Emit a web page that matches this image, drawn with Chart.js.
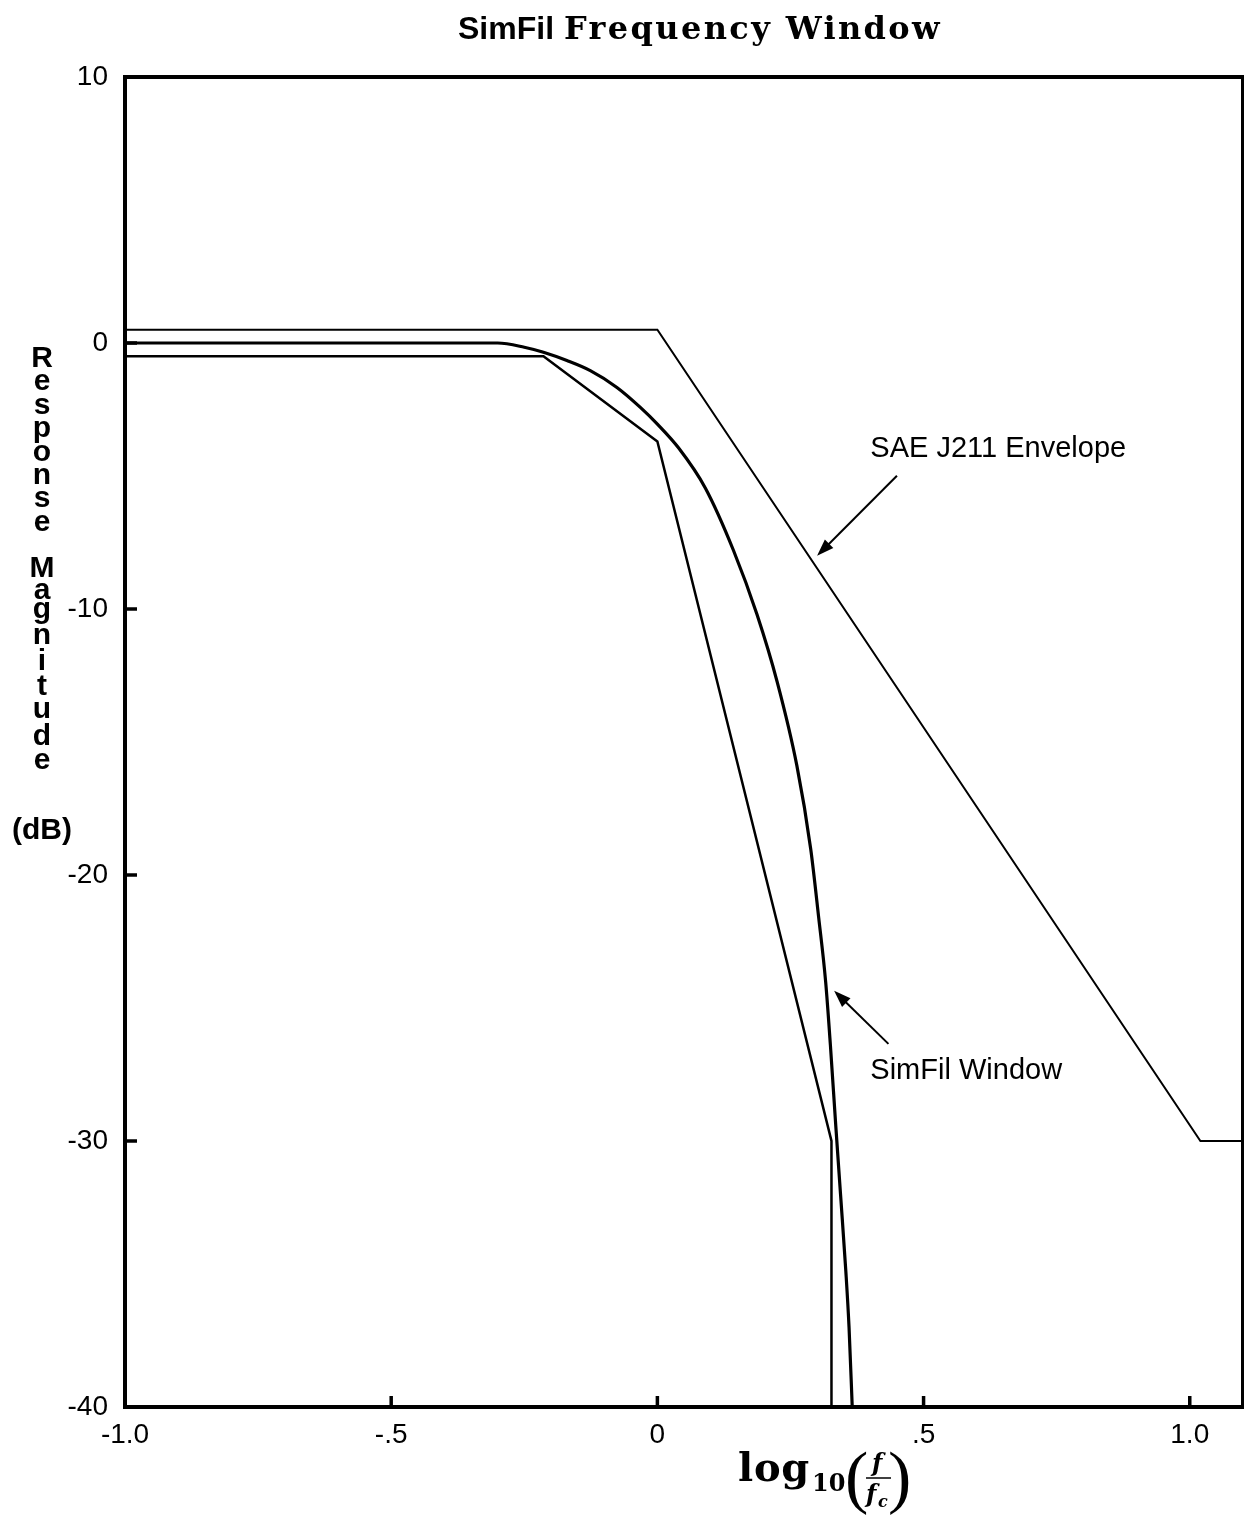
<!DOCTYPE html>
<html>
<head>
<meta charset="utf-8">
<script src="https://cdn.jsdelivr.net/npm/chart.js@4.4.1/dist/chart.umd.min.js"></script>
<style>
  body { margin: 0; background: #fff; }
  canvas { display: block; }
</style>
</head>
<body>
<canvas id="simfil-chart" width="1244" height="1520"></canvas>
<script>
// SAE J211 envelope, upper bound
const upperX = [-1.0, 0.0, 1.02, 1.1];
const upperY = [0.5, 0.5, -30, -30];

// SAE J211 envelope, lower bound
const lowerX = [-1.0, -0.214, 0.0, 0.327, 0.327];
const lowerY = [-0.5, -0.5, -3.7, -30, -40];

// SimFil window response
const simfilX = [-1.0, -0.3, -0.25, -0.214, -0.17, -0.126, -0.076, -0.032, 0.0, 0.04, 0.09,
  0.143, 0.187, 0.225, 0.262, 0.288, 0.303, 0.316, 0.325, 0.335, 0.344, 0.354, 0.36, 0.366];
const simfilY = [0, 0, -0.16, -0.35, -0.66, -1.04, -1.67, -2.42, -3.05, -3.95, -5.45,
  -7.8, -10.2, -12.74, -15.89, -19.02, -21.6, -24.0, -26.4, -29.4, -32.0, -34.9, -37.0, -40];

const xTicks = [-1.0, -0.5, 0, 0.5, 1.0];
const xTickLabels = ['-1.0', '-.5', '0', '.5', '1.0'];
const yTicks = [10, 0, -10, -20, -30, -40];
const yTickLabels = ['10', '0', '-10', '-20', '-30', '-40'];

const toPoints = (xs, ys) => xs.map((x, i) => ({ x, y: ys[i] }));

// text annotations with arrows, in data units
const notes = [
  { text: 'SAE J211 Envelope', x: 0.4, y: -4.3, from: [0.450, -4.99], to: [0.300, -8.0] },
  { text: 'SimFil Window', x: 0.4, y: -27.67, from: [0.434, -26.35], to: [0.332, -24.35] }
];

const SANS = '"Liberation Sans", Arial, sans-serif';
const SERIF = '"DejaVu Serif", serif';
const THIN_SERIF = '"Liberation Serif", serif';

// draw text stretched with letter spacing so it spans the given width
function fillSpread(ctx, text, x, y, width) {
  ctx.letterSpacing = '0px';
  const w = ctx.measureText(text).width;
  const sp = Math.max(0, (width - w) / text.length);
  ctx.letterSpacing = sp + 'px';
  ctx.fillText(text, x, y);
  ctx.letterSpacing = '0px';
}

const decorPlugin = {
  id: 'decor',
  afterDraw(chart) {
    const { ctx, chartArea: a, scales: { x, y } } = chart;
    ctx.save();
    ctx.strokeStyle = '#000';
    ctx.fillStyle = '#000';

    // frame
    ctx.lineWidth = 4;
    ctx.strokeRect(a.left, a.top, a.right - a.left, a.bottom - a.top);

    // inward tick marks
    ctx.lineWidth = 3.5;
    yTicks.slice(1, -1).forEach(v => {
      const py = y.getPixelForValue(v);
      ctx.beginPath(); ctx.moveTo(a.left, py); ctx.lineTo(a.left + 12, py); ctx.stroke();
    });
    xTicks.slice(1).forEach(v => {
      const px = x.getPixelForValue(v);
      ctx.beginPath(); ctx.moveTo(px, a.bottom); ctx.lineTo(px, a.bottom - 11); ctx.stroke();
    });

    // notes and arrows
    ctx.font = '29px ' + SANS;
    ctx.textAlign = 'left';
    ctx.textBaseline = 'alphabetic';
    notes.forEach(n => {
      ctx.fillText(n.text, x.getPixelForValue(n.x), y.getPixelForValue(n.y));
      const x0 = x.getPixelForValue(n.from[0]), y0 = y.getPixelForValue(n.from[1]);
      const x1 = x.getPixelForValue(n.to[0]), y1 = y.getPixelForValue(n.to[1]);
      const ang = Math.atan2(y1 - y0, x1 - x0);
      ctx.lineWidth = 2;
      ctx.beginPath(); ctx.moveTo(x0, y0);
      ctx.lineTo(x1 - 10 * Math.cos(ang), y1 - 10 * Math.sin(ang)); ctx.stroke();
      ctx.beginPath();
      ctx.moveTo(x1, y1);
      ctx.lineTo(x1 - 17 * Math.cos(ang) + 6 * Math.sin(ang), y1 - 17 * Math.sin(ang) - 6 * Math.cos(ang));
      ctx.lineTo(x1 - 17 * Math.cos(ang) - 6 * Math.sin(ang), y1 - 17 * Math.sin(ang) + 6 * Math.cos(ang));
      ctx.closePath(); ctx.fill();
    });

    // title: bold sans + bold serif
    ctx.font = 'bold 32px ' + SANS;
    fillSpread(ctx, 'SimFil', 458, 39, 94);
    ctx.font = 'bold 32px ' + SERIF;
    fillSpread(ctx, 'Frequency Window', 564, 39, 378);

    // y axis title, stacked letters
    ctx.font = 'bold 30px ' + SANS;
    ctx.textAlign = 'center';
    'Response'.split('').forEach((c, i) => ctx.fillText(c, 42, 367 + i * 23.4));
    const magBase = [577, 599, 618, 644, 670, 695, 718, 745, 769];
    'Magnitude'.split('').forEach((c, i) => ctx.fillText(c, 42, magBase[i]));
    ctx.fillText('(dB)', 42, 839);

    // x axis title: log10 (f / fc)
    ctx.textAlign = 'left';
    ctx.font = 'bold 40px ' + SERIF;
    fillSpread(ctx, 'log', 738, 1481, 72);
    ctx.font = 'bold 24px ' + SERIF;
    ctx.fillText('10', 812, 1491);
    ctx.font = '70px ' + THIN_SERIF;
    ctx.fillText('(', 845, 1500);
    ctx.fillText(')', 888, 1500);
    ctx.font = 'italic bold 24px ' + SERIF;
    ctx.fillText('f', 872, 1471);
    ctx.fillText('f', 866, 1502);
    ctx.font = 'italic bold 16px ' + SERIF;
    ctx.fillText('c', 878, 1507);
    ctx.lineWidth = 1.5;
    ctx.beginPath(); ctx.moveTo(866, 1478); ctx.lineTo(891, 1478); ctx.stroke();

    ctx.restore();
  }
};

new Chart(document.getElementById('simfil-chart').getContext('2d'), {
  type: 'scatter',
  data: {
    datasets: [
      {
        label: 'SAE J211 upper',
        data: toPoints(upperX, upperY),
        showLine: true, borderColor: '#000', borderWidth: 2, pointRadius: 0
      },
      {
        label: 'SAE J211 lower',
        data: toPoints(lowerX, lowerY),
        showLine: true, borderColor: '#000', borderWidth: 2.5, pointRadius: 0
      },
      {
        label: 'SimFil Window',
        data: toPoints(simfilX, simfilY),
        showLine: true, borderColor: '#000', borderWidth: 3.2, pointRadius: 0,
        cubicInterpolationMode: 'monotone', tension: 0.4
      }
    ]
  },
  options: {
    responsive: false,
    animation: false,
    layout: { padding: { top: 77, left: 0, right: 1, bottom: 0 } },
    plugins: { legend: { display: false }, tooltip: { enabled: false } },
    scales: {
      x: {
        type: 'linear', min: -1, max: 1.1,
        afterBuildTicks: s => { s.ticks = xTicks.map(v => ({ value: v })); },
        afterFit: s => { s.height = 113; },
        grid: { display: false }, border: { display: false },
        ticks: {
          callback: (v, i) => xTickLabels[i],
          font: { family: SANS, size: 28 }, color: '#000',
          padding: 3, maxRotation: 0, autoSkip: false
        }
      },
      y: {
        type: 'linear', min: -40, max: 10,
        afterBuildTicks: s => { s.ticks = yTicks.map(v => ({ value: v })); },
        afterFit: s => { s.width = 125; },
        grid: { display: false }, border: { display: false },
        ticks: {
          callback: (v, i) => yTickLabels[i],
          font: { family: SANS, size: 28 }, color: '#000',
          padding: 9, autoSkip: false
        }
      }
    }
  },
  plugins: [decorPlugin]
});
</script>
</body>
</html>
